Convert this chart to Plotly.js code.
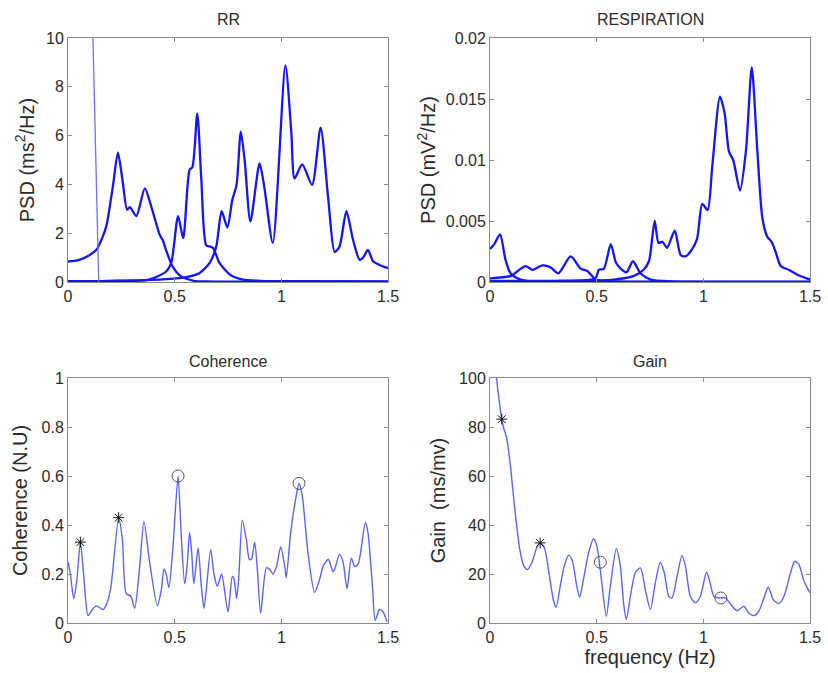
<!DOCTYPE html>
<html>
<head>
<meta charset="utf-8">
<script src="https://cdn.plot.ly/plotly-3.0.1.min.js"></script>
<style>html,body{margin:0;padding:0;background:#fff;}#chart{width:828px;height:673px;}</style>
</head>
<body>
<div id="chart"></div>
<script>
// ---------- RR PSD components ----------
const rr1X = [0, 0.05, 0.1, 0.133, 0.16, 0.18, 0.21, 0.234, 0.255, 0.277, 0.29, 0.32, 0.36, 0.39, 0.43, 0.445, 0.46, 0.49, 0.53, 0.59, 0.65, 0.8, 1.0, 1.5];
const rr1Y = [0.84, 0.9, 1.1, 1.32, 1.8, 2.3, 3.9, 5.3, 4.2, 2.96, 3.07, 2.7, 3.84, 3.1, 1.93, 1.7, 1.3, 0.64, 0.23, 0.05, 0.02, 0.01, 0.01, 0.01];
const rr2X = [0, 0.2, 0.38, 0.46, 0.484, 0.516, 0.54, 0.57, 0.583, 0.606, 0.625, 0.648, 0.667, 0.68, 0.71, 0.76, 0.82, 0.9, 1.1, 1.5];
const rr2Y = [0.03, 0.05, 0.1, 0.43, 0.78, 2.7, 1.8, 4.6, 4.7, 6.9, 4.2, 1.5, 1.45, 1.4, 0.78, 0.3, 0.1, 0.05, 0.03, 0.02];
const rr3X = [0, 0.3, 0.46, 0.555, 0.617, 0.664, 0.695, 0.72, 0.747, 0.77, 0.79, 0.81, 0.828, 0.855, 0.898, 0.92, 0.96, 1.019, 1.047, 1.062, 1.098, 1.144, 1.184, 1.22, 1.25, 1.273, 1.305, 1.336, 1.367, 1.383, 1.406, 1.43, 1.46, 1.5];
const rr3Y = [0.03, 0.06, 0.12, 0.2, 0.37, 0.78, 1.46, 2.9, 2.23, 3.36, 3.98, 6.16, 5.0, 2.48, 4.86, 3.9, 1.6, 8.88, 6.1, 4.25, 4.82, 3.98, 6.33, 3.4, 1.23, 1.46, 2.9, 1.73, 0.91, 1.0, 1.32, 0.85, 0.7, 0.57];
const rrThinX = [0.117, 0.144];
const rrThinY = [10, 0];

// ---------- Respiration PSD components ----------
const re1X = [0, 0.02, 0.047, 0.073, 0.097, 0.144, 0.2, 0.4, 1.5];
const re1Y = [0.0027, 0.0031, 0.0039, 0.0018, 0.0007, 0.0002, 0.00005, 0.00002, 0.00001];
const re2X = [0, 0.1, 0.13, 0.167, 0.2, 0.245, 0.284, 0.32, 0.378, 0.425, 0.456, 0.495, 0.52, 0.6, 1.5];
const re2Y = [0.0003, 0.0005, 0.0009, 0.0013, 0.001, 0.00136, 0.0012, 0.0007, 0.0021, 0.0011, 0.0009, 0.0002, 0.0001, 0.00003, 0.00001];
const re3X = [0, 0.3, 0.45, 0.495, 0.51, 0.534, 0.566, 0.59, 0.6125, 0.64, 0.67, 0.706, 0.753, 0.85, 1.5];
const re3Y = [0.0001, 0.0001, 0.00015, 0.0003, 0.001, 0.0011, 0.0031, 0.0016, 0.0011, 0.0008, 0.0017, 0.0007, 0.0002, 0.00005, 0.00001];
const re4X = [0, 0.4, 0.58, 0.675, 0.72, 0.745, 0.772, 0.79, 0.808, 0.83, 0.866, 0.894, 0.917, 0.94, 0.97, 0.995, 1.02, 1.042, 1.078, 1.1, 1.12, 1.14, 1.172, 1.2, 1.227, 1.253, 1.277, 1.3, 1.32, 1.34, 1.363, 1.4, 1.44, 1.5];
const re4Y = [0.00005, 0.00008, 0.0002, 0.0005, 0.001, 0.0017, 0.005, 0.0032, 0.0033, 0.0028, 0.0042, 0.0022, 0.0021, 0.0025, 0.0035, 0.0064, 0.0059, 0.0095, 0.0152, 0.0138, 0.0107, 0.01, 0.0075, 0.0108, 0.0176, 0.0108, 0.0052, 0.0037, 0.0033, 0.0024, 0.0013, 0.001, 0.0006, 0.0002];

// ---------- Coherence ----------
const cohX = [0, 0.011, 0.027, 0.042, 0.058, 0.073, 0.094, 0.11, 0.133, 0.164, 0.18, 0.2, 0.2375, 0.255, 0.273, 0.294, 0.3125, 0.336, 0.356, 0.383, 0.419, 0.4375, 0.45, 0.46, 0.473, 0.49, 0.516, 0.53, 0.547, 0.558, 0.57, 0.58, 0.59, 0.61, 0.625, 0.6375, 0.669, 0.684, 0.7, 0.72, 0.75, 0.77, 0.778, 0.79, 0.8, 0.817, 0.836, 0.85, 0.86, 0.875, 0.8875, 0.903, 0.93, 0.945, 0.96, 0.977, 0.997, 1.016, 1.023, 1.044, 1.07, 1.083, 1.098, 1.125, 1.156, 1.18, 1.195, 1.22, 1.242, 1.25, 1.273, 1.289, 1.308, 1.328, 1.344, 1.36, 1.394, 1.406, 1.427, 1.44, 1.46, 1.477, 1.495];
const cohY = [0.25, 0.2, 0.1, 0.18, 0.33, 0.2, 0.03, 0.05, 0.07, 0.055, 0.075, 0.14, 0.43, 0.34, 0.12, 0.11, 0.06, 0.23, 0.415, 0.245, 0.07, 0.135, 0.22, 0.2, 0.145, 0.285, 0.6, 0.37, 0.16, 0.23, 0.37, 0.285, 0.16, 0.305, 0.15, 0.06, 0.3, 0.2, 0.15, 0.2, 0.045, 0.19, 0.18, 0.1, 0.18, 0.42, 0.34, 0.26, 0.26, 0.33, 0.22, 0.04, 0.225, 0.22, 0.2, 0.23, 0.31, 0.23, 0.185, 0.37, 0.52, 0.57, 0.52, 0.285, 0.125, 0.18, 0.23, 0.26, 0.21, 0.22, 0.28, 0.25, 0.14, 0.265, 0.23, 0.24, 0.41, 0.37, 0.15, 0.01, 0.055, 0.045, 0.005];
const cohStarX = [0.058, 0.2375];
const cohStarY = [0.33, 0.43];
const cohCircX = [0.516, 1.083];
const cohCircY = [0.6, 0.57];

// ---------- Gain ----------
const gainX = [0.026, 0.031, 0.044, 0.055, 0.066, 0.078, 0.094, 0.11, 0.125, 0.141, 0.157, 0.175, 0.196, 0.219, 0.235, 0.255, 0.274, 0.297, 0.31, 0.329, 0.348, 0.368, 0.384, 0.407, 0.42, 0.438, 0.462, 0.485, 0.501, 0.524, 0.545, 0.564, 0.592, 0.611, 0.626, 0.639, 0.658, 0.681, 0.705, 0.731, 0.752, 0.775, 0.798, 0.817, 0.838, 0.853, 0.877, 0.9, 0.916, 0.939, 0.963, 0.986, 1.015, 1.03, 1.049, 1.072, 1.104, 1.135, 1.159, 1.19, 1.213, 1.237, 1.26, 1.284, 1.304, 1.328, 1.354, 1.378, 1.409, 1.428, 1.448, 1.472, 1.5];
const gainY = [108, 100, 90, 83.2, 79, 75.7, 65.5, 51.8, 39.6, 29.3, 23.6, 21.8, 24.6, 30.7, 32.7, 30.7, 21.8, 9.5, 6.4, 15, 23.2, 27.6, 25.9, 15, 10.5, 17.7, 28.6, 34.4, 31.4, 16.4, 2.7, 15, 30.3, 23.2, 8.2, 1.4, 10.9, 20.5, 22.5, 12.3, 5.5, 16.4, 24.8, 20.5, 10.9, 10.2, 19.1, 27.6, 23.2, 10.9, 8.2, 10.9, 20.7, 17, 10.9, 10.2, 10.2, 6.8, 5, 6.8, 4.1, 3, 4.8, 10.2, 14.7, 9.5, 7.9, 10.9, 20.5, 25.2, 23.9, 17, 12.3];
const gainStarX = [0.055, 0.235];
const gainStarY = [83.2, 32.7];
const gainCircX = [0.517, 1.082];
const gainCircY = [24.8, 10.2];

// ---------- Labels ----------
const panelTitles = ['RR', 'RESPIRATION', 'Coherence', 'Gain'];
const yTitles = ['PSD (ms<sup>2</sup>/Hz)', 'PSD (mV<sup>2</sup>/Hz)', 'Coherence (N.U)', 'Gain&nbsp;&nbsp;(ms/mv)'];
const xTitleGain = 'frequency (Hz)';

const W = 828, H = 673;
const thick = {color: '#1414ff', width: 2.3, shape: 'spline', smoothing: 0.7};
const thin = {color: '#5a64ff', width: 1.4, shape: 'spline', smoothing: 0.7};

function line(x, y, xa, ya, ln) {
  return {x: x, y: y, xaxis: xa, yaxis: ya, type: 'scatter', mode: 'lines', line: ln, hoverinfo: 'skip', showlegend: false};
}
function marks(x, y, xa, ya, sym, size, color) {
  return {x: x, y: y, xaxis: xa, yaxis: ya, type: 'scatter', mode: 'markers', showlegend: false,
    marker: {symbol: sym, size: size, color: color, line: {color: color, width: 1}}, hoverinfo: 'skip'};
}

const traces = [
  line(rr1X, rr1Y, 'x', 'y', thick),
  line(rr2X, rr2Y, 'x', 'y', thick),
  line(rr3X, rr3Y, 'x', 'y', thick),
  line(rrThinX, rrThinY, 'x', 'y', {color: '#6a72ff', width: 1.3}),
  line(re1X, re1Y, 'x2', 'y2', thick),
  line(re2X, re2Y, 'x2', 'y2', thick),
  line(re3X, re3Y, 'x2', 'y2', thick),
  line(re4X, re4Y, 'x2', 'y2', thick),
  line(cohX, cohY, 'x3', 'y3', thin),
  marks(cohStarX, cohStarY, 'x3', 'y3', 'asterisk-open', 9, '#111'),
  marks(cohCircX, cohCircY, 'x3', 'y3', 'circle-open', 12, '#555'),
  line(gainX, gainY, 'x4', 'y4', thin),
  marks(gainStarX, gainStarY, 'x4', 'y4', 'asterisk-open', 9, '#111'),
  marks(gainCircX, gainCircY, 'x4', 'y4', 'circle-open', 12, '#555')
];

const fnt = {family: 'Liberation Sans, Arial, sans-serif', color: '#2a2a2a'};
function ax(domain, range, dtick, extra) {
  return Object.assign({
    domain: domain, range: range, dtick: dtick, tick0: 0,
    showline: true, linecolor: '#8a8a8a', linewidth: 1, mirror: 'ticks',
    ticks: 'inside', ticklen: 4, tickcolor: '#8a8a8a',
    showgrid: false, zeroline: false,
    tickfont: Object.assign({size: 16}, fnt), automargin: false, fixedrange: true
  }, extra || {});
}
const xL = [68 / W, 388 / W], xR = [490 / W, 810 / W];
const yT = [1 - 282 / H, 1 - 38 / H], yB = [1 - 623 / H, 1 - 378 / H];
const yTitleFont = Object.assign({size: 20}, fnt);

const layout = {
  width: W, height: H,
  margin: {l: 0, r: 0, t: 0, b: 0},
  paper_bgcolor: '#fff', plot_bgcolor: '#fff',
  font: fnt,
  xaxis: ax(xL, [0, 1.5], 0.5, {anchor: 'y'}),
  yaxis: ax(yT, [0, 10], 2, {anchor: 'x', title: {text: yTitles[0], font: yTitleFont, standoff: 6}}),
  xaxis2: ax(xR, [0, 1.5], 0.5, {anchor: 'y2'}),
  yaxis2: ax(yT, [0, 0.02], 0.005, {anchor: 'x2', title: {text: yTitles[1], font: yTitleFont, standoff: 4}}),
  xaxis3: ax(xL, [0, 1.5], 0.5, {anchor: 'y3'}),
  yaxis3: ax(yB, [0, 1], 0.2, {anchor: 'x3', title: {text: yTitles[2], font: yTitleFont, standoff: 8}}),
  xaxis4: ax(xR, [0, 1.5], 0.5, {anchor: 'y4', title: {text: xTitleGain, font: yTitleFont, standoff: 2}}),
  yaxis4: ax(yB, [0, 100], 20, {anchor: 'x4', title: {text: yTitles[3], font: yTitleFont, standoff: 8}}),
  annotations: [
    {text: panelTitles[0], x: (xL[0] + xL[1]) / 2, y: 1 - 19 / H},
    {text: panelTitles[1], x: (xR[0] + xR[1]) / 2, y: 1 - 19 / H},
    {text: panelTitles[2], x: (xL[0] + xL[1]) / 2, y: 1 - 361 / H},
    {text: panelTitles[3], x: (xR[0] + xR[1]) / 2, y: 1 - 361 / H}
  ].map(a => Object.assign(a, {xref: 'paper', yref: 'paper', showarrow: false, xanchor: 'center', yanchor: 'middle', font: Object.assign({size: 16}, fnt)}))
};

Plotly.newPlot('chart', traces, layout, {staticPlot: true, displayModeBar: false});
</script>
</body>
</html>
